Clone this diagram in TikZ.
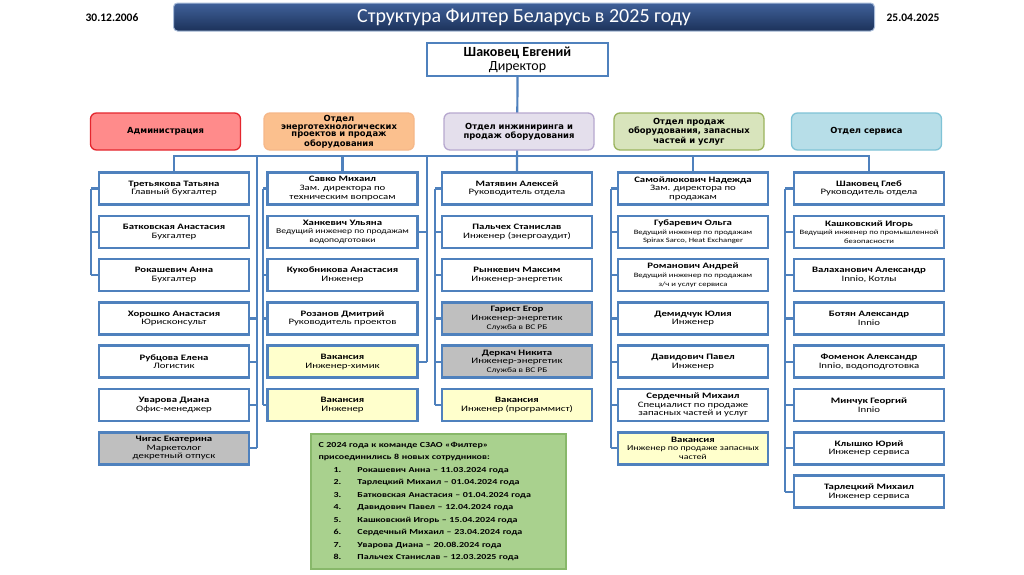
\documentclass[tikz,border=0pt]{standalone}
\usepackage{fontspec}
\setmainfont{Carlito}
\newfontfamily\boxfont{Carlito}[FakeStretch=1.3]
\newfontfamily\deptfont{DejaVu Sans}
\usepackage{xcolor}
\definecolor{boxblue}{HTML}{4F81BD}
\definecolor{leave}{HTML}{BFBFBF}
\definecolor{vacancy}{HTML}{FFFFCC}
\definecolor{admfill}{HTML}{FF8B8B}
\definecolor{admdraw}{HTML}{E4262E}
\definecolor{enrfill}{HTML}{FBC08E}
\definecolor{enrdraw}{HTML}{F6B889}
\definecolor{engfill}{HTML}{E4DFEC}
\definecolor{engdraw}{HTML}{B7A8CF}
\definecolor{salfill}{HTML}{D8E4BC}
\definecolor{saldraw}{HTML}{9BB45E}
\definecolor{srvfill}{HTML}{B7DEE8}
\definecolor{srvdraw}{HTML}{7FC3D6}
\definecolor{notefill}{HTML}{A9D18E}
\definecolor{notedraw}{HTML}{88B86A}
\definecolor{barhi}{HTML}{40619A}
\definecolor{barlo}{HTML}{1C325A}
\definecolor{barrim}{HTML}{A9BCD9}
\usetikzlibrary{positioning,backgrounds}
\newcommand{\nm}[1]{{\bfseries #1}}
\newcommand{\smr}{\fontsize{6.6}{7}\selectfont}
\newcommand{\hire}[2]{\hspace*{15pt}\makebox[24pt][l]{#1}#2}
\tikzset{
  pbox/.style={draw=boxblue,fill=white,line width=2.6pt,minimum width=150pt,minimum height=32pt,
    inner sep=1.5pt,outer sep=0pt,align=center,font=\boxfont\fontsize{8.3}{8.6}\selectfont},
  pboxg/.style={pbox,fill=leave},
  pboxv/.style={pbox,fill=vacancy},
  dirbox/.style={draw=boxblue,fill=white,line width=2.6pt,minimum width=181pt,minimum height=33pt,
    inner sep=1pt,outer sep=0pt,align=center,font=\fontsize{14}{14}\selectfont},
  dept/.style={rounded corners=6pt,line width=1.3pt,minimum width=150pt,minimum height=37pt,
    inner sep=1pt,align=center,font=\deptfont\bfseries\fontsize{8.4}{7.6}\selectfont},
  titlebar/.style={rounded corners=4pt,draw=barrim,line width=1pt,top color=barhi,bottom color=barlo,
    minimum width=701pt,minimum height=28pt,text=white,font=\fontsize{20}{20}\selectfont},
  datelbl/.style={font=\bfseries\fontsize{11.5}{12}\selectfont},
  notebox/.style={draw=notedraw,fill=notefill,line width=1.2pt,minimum width=255pt,minimum height=135pt,
    text width=240pt,inner sep=7.5pt,align=left,font=\boxfont\bfseries\fontsize{7.7}{12.5}\selectfont},
  link/.style={draw=boxblue,line width=2.2pt},
}
\begin{document}
\begin{tikzpicture}[x=1pt,y=-1pt,node distance=11.3pt]
  \useasboundingbox (0,0) rectangle (1024,574);
  \node[titlebar] (title) at (524,17) {Структура Филтер Беларусь в 2025 году};
  \node[datelbl] (dl) at (112,18) {30.12.2006};
  \node[datelbl] (dr) at (913,18) {25.04.2025};
  \node[dirbox] (dir) at (517.5,59.5) {\textbf{Шаковец Евгений}\\Директор};
  \node[dept,fill=admfill,draw=admdraw] (adm) at (165.5,131.5) {Администрация};
  \node[dept,fill=enrfill,draw=enrdraw] (enr) at (339,131.5) {Отдел\\энерготехнологических\\проектов и продаж\\оборудования};
  \node[dept,fill=engfill,draw=engdraw] (eng) at (519,131.5) {Отдел инжиниринга и\\продаж оборудования};
  \node[dept,fill=salfill,draw=saldraw] (sal) at (689,131.5) {Отдел продаж\\оборудования, запасных\\частей и услуг};
  \node[dept,fill=srvfill,draw=srvdraw] (srv) at (866.5,131.5) {Отдел сервиса};

  \node[pbox] (a1) at (174,188.5) {\nm{Третьякова Татьяна}\\Главный бухгалтер};
  \node[pbox,below=of a1] (a2) {\nm{Батковская Анастасия}\\Бухгалтер};
  \node[pbox,below=of a2] (a3) {\nm{Рокашевич Анна}\\Бухгалтер};
  \node[pbox,below=of a3] (a4) {\nm{Хорошко Анастасия}\\Юрисконсульт};
  \node[pbox,below=of a4] (a5) {\nm{Рубцова Елена}\\Логистик};
  \node[pbox,below=of a5] (a6) {\nm{Уварова Диана}\\Офис-менеджер};
  \node[pboxg,below=of a6] (a7) {\nm{Чигас Екатерина}\\Маркетолог\\декретный отпуск};

  \node[pbox] (b1) at (342.5,188.5) {\nm{Савко Михаил}\\Зам. директора по\\техническим вопросам};
  \node[pbox,below=of b1] (b2) {\nm{Ханкевич Ульяна}\\{\fontsize{7.4}{7.8}\selectfont Ведущий инженер по продажам}\\{\fontsize{7.4}{7.8}\selectfont водоподготовки}};
  \node[pbox,below=of b2] (b3) {\nm{Кукобникова Анастасия}\\Инженер};
  \node[pbox,below=of b3] (b4) {\nm{Розанов Дмитрий}\\Руководитель проектов};
  \node[pboxv,below=of b4] (b5) {\nm{Вакансия}\\Инженер-химик};
  \node[pboxv,below=of b5] (b6) {\nm{Вакансия}\\Инженер};

  \node[pbox] (c1) at (517,188.5) {\nm{Матявин Алексей}\\Руководитель отдела};
  \node[pbox,below=of c1] (c2) {\nm{Пальчех Станислав}\\Инженер (энергоаудит)};
  \node[pbox,below=of c2] (c3) {\nm{Рынкевич Максим}\\Инженер-энергетик};
  \node[pboxg,below=of c3] (c4) {\nm{Гарист Егор}\\Инженер-энергетик\\{\fontsize{7.2}{7.6}\selectfont Служба в ВС РБ}};
  \node[pboxg,below=of c4] (c5) {\nm{Деркач Никита}\\Инженер-энергетик\\{\fontsize{7.2}{7.6}\selectfont Служба в ВС РБ}};
  \node[pboxv,below=of c5] (c6) {\nm{Вакансия}\\Инженер (программист)};

  \node[pbox] (d1) at (693,188.5) {\nm{Самойлюкович Надежда}\\Зам. директора по\\продажам};
  \node[pbox,below=of d1] (d2) {\nm{Губаревич Ольга}\\{\smr Ведущий инженер по продажам}\\{\smr Spirax Sarco, Heat Exchanger}};
  \node[pbox,below=of d2] (d3) {\nm{Романович Андрей}\\{\smr Ведущий инженер по продажам}\\{\smr з/ч и услуг сервиса}};
  \node[pbox,below=of d3] (d4) {\nm{Демидчук Юлия}\\Инженер};
  \node[pbox,below=of d4] (d5) {\nm{Давидович Павел}\\Инженер};
  \node[pbox,below=of d5] (d6) {\nm{Сердечный Михаил}\\Специалист по продаже\\запасных частей и услуг};
  \node[pboxv,below=of d6] (d7) {\nm{Вакансия}\\{\fontsize{7.6}{8}\selectfont Инженер по продаже запасных}\\{\fontsize{7.6}{8}\selectfont частей}};

  \node[pbox] (e1) at (869,188.5) {\nm{Шаковец Глеб}\\Руководитель отдела};
  \node[pbox,below=of e1] (e2) {\nm{Кашковский Игорь}\\{\smr Ведущий инженер по промышленной}\\{\smr безопасности}};
  \node[pbox,below=of e2] (e3) {\nm{Валаханович Александр}\\Innio, Котлы};
  \node[pbox,below=of e3] (e4) {\nm{Ботян Александр}\\Innio};
  \node[pbox,below=of e4] (e5) {\nm{Фоменок Александр}\\Innio, водоподготовка};
  \node[pbox,below=of e5] (e6) {\nm{Минчук Георгий}\\Innio};
  \node[pbox,below=of e6] (e7) {\nm{Клышко Юрий}\\Инженер сервиса};
  \node[pbox,below=of e7] (e8) {\nm{Тарлецкий Михаил}\\Инженер сервиса};

  \node[notebox] (news) at (438.5,501.5) {С 2024 года к команде СЗАО «Филтер»\\присоединились 8 новых сотрудников:\\
    \hire{1.}{Рокашевич Анна – 11.03.2024 года}\\
    \hire{2.}{Тарлецкий Михаил – 01.04.2024 года}\\
    \hire{3.}{Батковская Анастасия – 01.04.2024 года}\\
    \hire{4.}{Давидович Павел – 12.04.2024 года}\\
    \hire{5.}{Кашковский Игорь – 15.04.2024 года}\\
    \hire{6.}{Сердечный Михаил – 23.04.2024 года}\\
    \hire{7.}{Уварова Диана – 20.08.2024 года}\\
    \hire{8.}{Пальчех Станислав – 12.03.2025 года}};

  \begin{scope}[on background layer]
    \fill[white] (0,0) rectangle (1024,574);
    \coordinate (bus) at ([yshift=16.5pt]a1.north);
    \draw[link] (dir.south) -- (c1.north);
    \draw[link] (a1.north) -- (bus) -| (e1.north);
    \foreach \n in {b1,d1} \draw[link] (\n.north) -- (\n.north |- bus);
    \draw[link] ([xshift=-8pt]a1.west) -- ([xshift=-8pt]a3.west);
    \foreach \i in {1,2,3} \draw[link] (a\i.west) -- ++(-8,0);
    \draw[link] ([xshift=8pt]a7.east) -- ([xshift=8pt]a7.east |- bus);
    \foreach \i in {4,...,7} \draw[link] (a\i.east) -- ++(8,0);
    \draw[link] ([xshift=-4.5pt]b1.west) -- ([xshift=-4.5pt]b6.west);
    \foreach \i in {1,3,4,6} \draw[link] (b\i.west) -- ++(-4.5,0);
    \draw[link] ([xshift=9.5pt]b5.east) -- ([xshift=9.5pt]b5.east |- bus);
    \foreach \i in {2,5} \draw[link] (b\i.east) -- ++(9.5,0);
    \draw[link] ([xshift=-7pt]c1.west) -- ([xshift=-7pt]c6.west);
    \foreach \i in {1,...,6} \draw[link] (c\i.west) -- ++(-7,0);
    \draw[link] ([xshift=-7pt]d1.west) -- ([xshift=-7pt]d7.west);
    \foreach \i in {1,...,7} \draw[link] (d\i.west) -- ++(-7,0);
    \draw[link] ([xshift=-9pt]e1.west) -- ([xshift=-9pt]e8.west);
    \foreach \i in {1,...,8} \draw[link] (e\i.west) -- ++(-9,0);
  \end{scope}
\end{tikzpicture}
\end{document}
